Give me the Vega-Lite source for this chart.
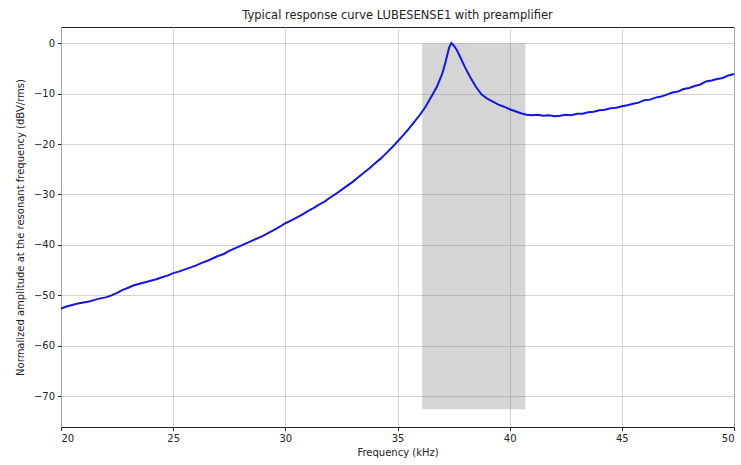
{
  "$schema": "https://vega.github.io/schema/vega-lite/v6.json",
  "width": 673,
  "height": 400,
  "autosize": "none",
  "padding": {"left": 61, "top": 27, "right": 7, "bottom": 38},
  "background": "white",
  "title": {"text": "Typical response curve LUBESENSE1 with preamplifier", "font": "DejaVu Sans", "fontSize": 11.5, "fontWeight": "normal", "color": "#222", "offset": 6},
  "config": {
    "view": {"stroke": "#222", "strokeWidth": 1},
    "axis": {"labelFont": "DejaVu Sans", "titleFont": "DejaVu Sans", "labelFontSize": 10, "titleFontSize": 10, "titleFontWeight": "normal", "labelColor": "#222", "titleColor": "#222", "gridColor": "#c8c8c8", "gridWidth": 0.8, "tickColor": "#222", "tickSize": 3.5, "domain": false, "labelPadding": 3}
  },
  "datasets": {
    "band": [{"x0": 36.1, "x1": 40.7, "y0": -72.6, "y1": 0}],
    "curve": [
      {"f":20.0,"a":-52.6},{"f":20.25,"a":-52.2},{"f":20.5,"a":-51.9},{"f":20.75,"a":-51.6},{"f":21.0,"a":-51.4},{"f":21.25,"a":-51.2},{"f":21.5,"a":-50.9},{"f":21.75,"a":-50.6},
      {"f":22.0,"a":-50.4},{"f":22.25,"a":-50.0},{"f":22.5,"a":-49.5},{"f":22.75,"a":-48.9},{"f":23.0,"a":-48.5},{"f":23.25,"a":-48.0},{"f":23.5,"a":-47.7},{"f":23.75,"a":-47.4},
      {"f":24.0,"a":-47.1},{"f":24.25,"a":-46.8},{"f":24.5,"a":-46.4},{"f":24.75,"a":-46.1},{"f":25.0,"a":-45.6},{"f":25.25,"a":-45.3},{"f":25.5,"a":-44.9},{"f":25.75,"a":-44.5},
      {"f":26.0,"a":-44.1},{"f":26.25,"a":-43.6},{"f":26.5,"a":-43.2},{"f":26.75,"a":-42.7},{"f":27.0,"a":-42.2},{"f":27.25,"a":-41.8},{"f":27.5,"a":-41.2},{"f":27.75,"a":-40.7},
      {"f":28.0,"a":-40.2},{"f":28.25,"a":-39.7},{"f":28.5,"a":-39.2},{"f":28.75,"a":-38.7},{"f":29.0,"a":-38.2},{"f":29.25,"a":-37.6},{"f":29.5,"a":-37.0},{"f":29.75,"a":-36.4},
      {"f":30.0,"a":-35.7},{"f":30.25,"a":-35.2},{"f":30.5,"a":-34.6},{"f":30.75,"a":-34.0},{"f":31.0,"a":-33.3},{"f":31.25,"a":-32.7},{"f":31.5,"a":-32.0},{"f":31.75,"a":-31.4},
      {"f":32.0,"a":-30.6},{"f":32.25,"a":-29.9},{"f":32.5,"a":-29.1},{"f":32.75,"a":-28.3},{"f":33.0,"a":-27.5},{"f":33.25,"a":-26.6},{"f":33.5,"a":-25.7},{"f":33.75,"a":-24.8},
      {"f":34.0,"a":-23.8},{"f":34.25,"a":-22.9},{"f":34.5,"a":-21.8},{"f":34.75,"a":-20.7},{"f":35.0,"a":-19.5},{"f":35.25,"a":-18.3},{"f":35.5,"a":-17.0},{"f":35.75,"a":-15.6},
      {"f":36.0,"a":-14.2},{"f":36.25,"a":-12.6},{"f":36.5,"a":-10.7},{"f":36.75,"a":-8.7},{"f":37.0,"a":-6.0},{"f":37.15,"a":-3.6},{"f":37.3,"a":-0.9},
      {"f":37.4,"a":0.0},{"f":37.5,"a":-0.4},{"f":37.65,"a":-1.4},{"f":37.8,"a":-2.8},{"f":38.0,"a":-4.7},{"f":38.25,"a":-6.8},{"f":38.5,"a":-8.7},{"f":38.75,"a":-10.2},
      {"f":39.0,"a":-11.0},{"f":39.25,"a":-11.6},{"f":39.5,"a":-12.2},{"f":39.75,"a":-12.6},{"f":40.0,"a":-13.1},{"f":40.25,"a":-13.5},{"f":40.5,"a":-13.9},{"f":40.75,"a":-14.2},
      {"f":41.0,"a":-14.3},{"f":41.25,"a":-14.2},{"f":41.5,"a":-14.4},{"f":41.75,"a":-14.3},{"f":42.0,"a":-14.5},{"f":42.25,"a":-14.4},{"f":42.5,"a":-14.2},{"f":42.75,"a":-14.3},
      {"f":43.0,"a":-14.0},{"f":43.25,"a":-14.0},{"f":43.5,"a":-13.7},{"f":43.75,"a":-13.6},{"f":44.0,"a":-13.3},{"f":44.25,"a":-13.2},{"f":44.5,"a":-12.9},{"f":44.75,"a":-12.8},
      {"f":45.0,"a":-12.5},{"f":45.25,"a":-12.3},{"f":45.5,"a":-12.0},{"f":45.75,"a":-11.8},{"f":46.0,"a":-11.3},{"f":46.25,"a":-11.2},{"f":46.5,"a":-10.8},{"f":46.75,"a":-10.6},
      {"f":47.0,"a":-10.2},{"f":47.25,"a":-9.8},{"f":47.5,"a":-9.6},{"f":47.75,"a":-9.1},{"f":48.0,"a":-8.9},{"f":48.25,"a":-8.5},{"f":48.5,"a":-8.2},{"f":48.75,"a":-7.6},
      {"f":49.0,"a":-7.4},{"f":49.25,"a":-7.1},{"f":49.5,"a":-6.9},{"f":49.75,"a":-6.4},{"f":50.0,"a":-6.1}
    ]
  },
  "layer": [
    {
      "data": {"name": "band"},
      "mark": {"type": "rect", "color": "#808080", "opacity": 0.33},
      "encoding": {
        "x": {"field": "x0", "type": "quantitative", "scale": {"domain": [20, 50], "nice": false, "zero": false},
              "axis": {"title": "Frequency (kHz)", "values": [20, 25, 30, 35, 40, 45, 50], "grid": true, "titlePadding": 4}},
        "x2": {"field": "x1"},
        "y": {"field": "y0", "type": "quantitative", "scale": {"domain": [-76.1, 3.2], "nice": false, "zero": false},
              "axis": {"title": "Normalized amplitude at the resonant frequency (dBV/rms)", "values": [-70, -60, -50, -40, -30, -20, -10, 0], "labelExpr": "replace(datum.label, '-', '−')", "grid": true, "titlePadding": 8}},
        "y2": {"field": "y1"}
      }
    },
    {
      "data": {"name": "curve"},
      "mark": {"type": "line", "color": "#1515e6", "strokeWidth": 2},
      "encoding": {
        "x": {"field": "f", "type": "quantitative"},
        "y": {"field": "a", "type": "quantitative"}
      }
    }
  ]
}
